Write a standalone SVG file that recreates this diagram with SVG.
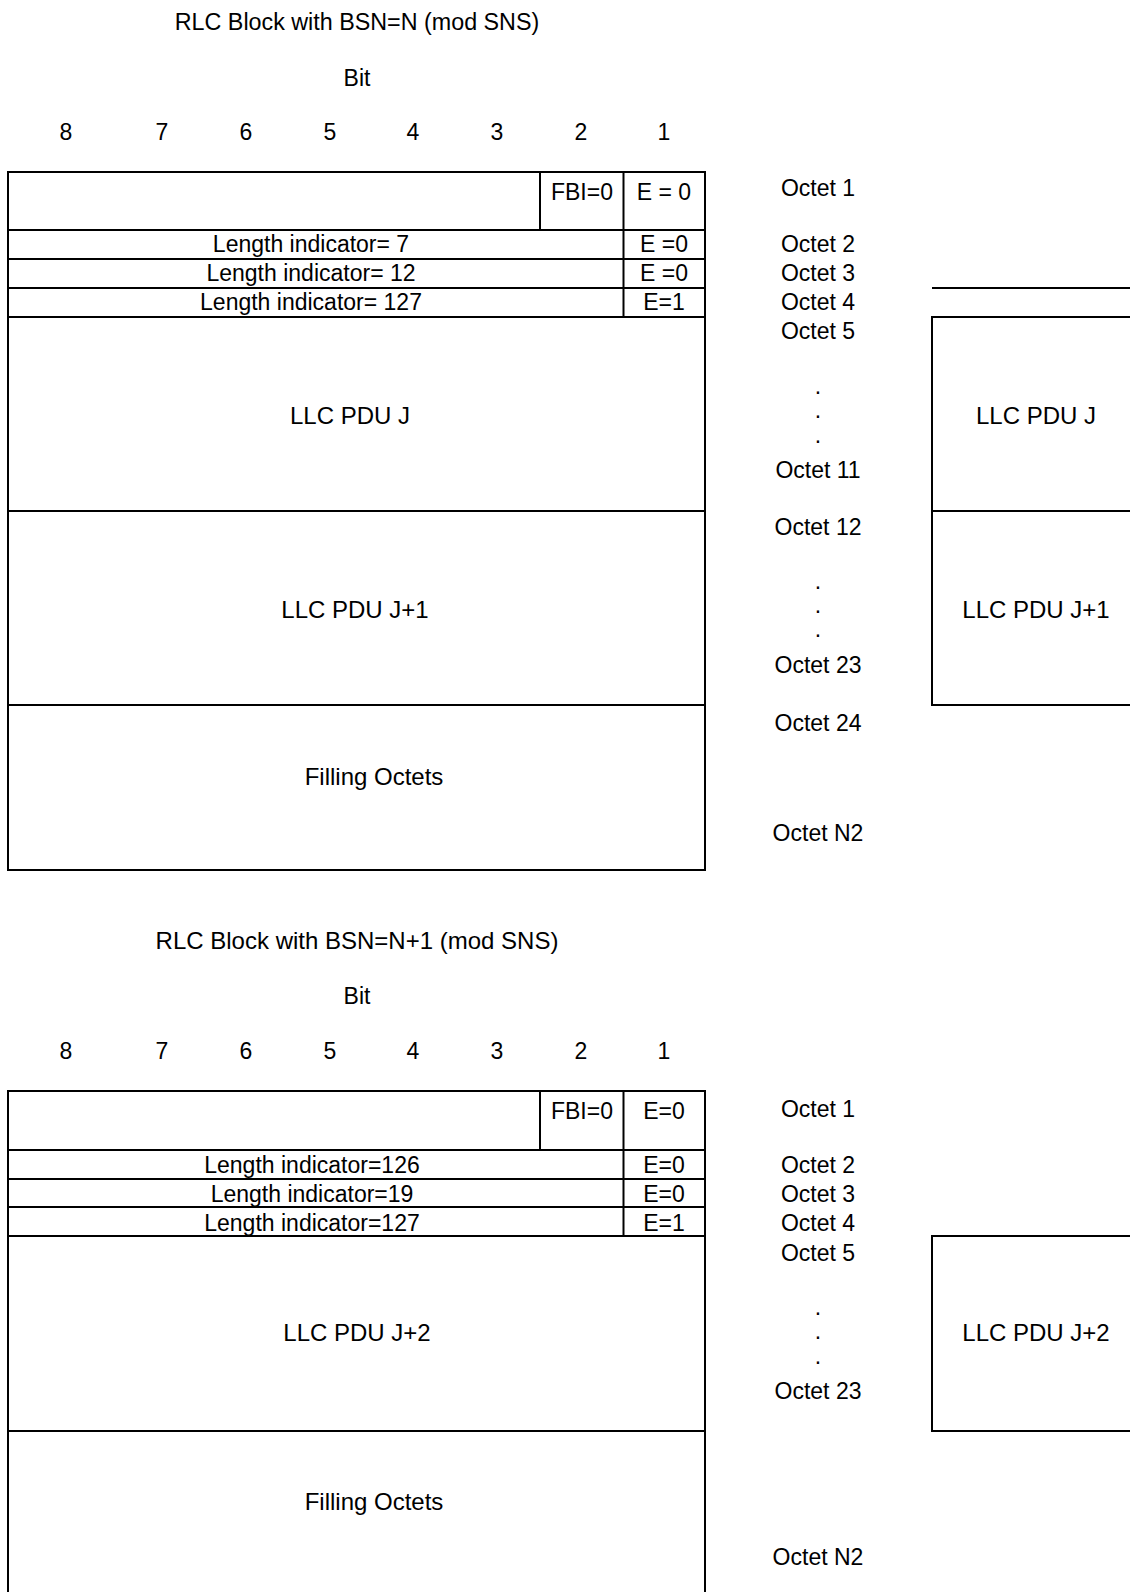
<svg xmlns="http://www.w3.org/2000/svg" width="1130" height="1592" viewBox="0 0 1130 1592">
<style>
text{font-family:"Liberation Sans",Arial,sans-serif;font-size:23px;fill:#000;text-anchor:middle}
text.big{font-size:24px}
line,rect.box{stroke:#000;stroke-width:2;fill:none}
</style>
<g id="block1">
<text x="357" y="30" style="font-size:23.3px">RLC Block with BSN=N (mod SNS)</text>
<text x="357" y="86">Bit</text>
<g id="bits1">
<text x="66" y="140">8</text><text x="162" y="140">7</text><text x="246" y="140">6</text><text x="330" y="140">5</text><text x="413" y="140">4</text><text x="497" y="140">3</text><text x="581" y="140">2</text><text x="664" y="140">1</text>
</g>
<g id="table1">
<line x1="8" y1="172" x2="8" y2="870"/>
<line x1="705" y1="172" x2="705" y2="870"/>
<line x1="7" y1="172" x2="706" y2="172"/>
<line x1="7" y1="230" x2="706" y2="230"/>
<line x1="7" y1="259" x2="706" y2="259"/>
<line x1="7" y1="288" x2="706" y2="288"/>
<line x1="7" y1="317" x2="706" y2="317"/>
<line x1="7" y1="511" x2="706" y2="511"/>
<line x1="7" y1="705" x2="706" y2="705"/>
<line x1="7" y1="870" x2="706" y2="870"/>
<line x1="540" y1="172" x2="540" y2="230"/>
<line x1="623.5" y1="172" x2="623.5" y2="317"/>
<text x="582" y="200">FBI=0</text><text x="664" y="200">E = 0</text>
<text x="311" y="252">Length indicator= 7</text><text x="664" y="252">E =0</text>
<text x="311" y="281">Length indicator= 12</text><text x="664" y="281">E =0</text>
<text x="311" y="310">Length indicator= 127</text><text x="664" y="310">E=1</text>
<text class="big" x="350" y="424">LLC PDU J</text>
<text class="big" x="355" y="618">LLC PDU J+1</text>
<text class="big" x="374" y="785">Filling Octets</text>
</g>
<g id="octets1">
<text x="818" y="196">Octet 1</text>
<text x="818" y="252">Octet 2</text>
<text x="818" y="281">Octet 3</text>
<text x="818" y="310">Octet 4</text>
<text x="818" y="339">Octet 5</text>
<text x="818" y="394">.</text><text x="818" y="418">.</text><text x="818" y="443">.</text>
<text x="818" y="478">Octet 11</text>
<text x="818" y="535">Octet 12</text>
<text x="818" y="589">.</text><text x="818" y="613">.</text><text x="818" y="637">.</text>
<text x="818" y="673">Octet 23</text>
<text x="818" y="731">Octet 24</text>
<text x="818" y="841">Octet N2</text>
</g>
<g id="llc1">
<line x1="932" y1="288" x2="1130" y2="288"/>
<line x1="932" y1="316" x2="932" y2="706"/>
<line x1="931" y1="317" x2="1130" y2="317"/>
<line x1="931" y1="511" x2="1130" y2="511"/>
<line x1="931" y1="705" x2="1130" y2="705"/>
<text class="big" x="1036" y="424">LLC PDU J</text>
<text class="big" x="1036" y="618">LLC PDU J+1</text>
</g>
</g>
<g id="block2">
<text class="big" x="357" y="949">RLC Block with BSN=N+1 (mod SNS)</text>
<text x="357" y="1004">Bit</text>
<g id="bits2">
<text x="66" y="1059">8</text><text x="162" y="1059">7</text><text x="246" y="1059">6</text><text x="330" y="1059">5</text><text x="413" y="1059">4</text><text x="497" y="1059">3</text><text x="581" y="1059">2</text><text x="664" y="1059">1</text>
</g>
<g id="table2">
<line x1="8" y1="1091" x2="8" y2="1592"/>
<line x1="705" y1="1091" x2="705" y2="1592"/>
<line x1="7" y1="1091" x2="706" y2="1091"/>
<line x1="7" y1="1150" x2="706" y2="1150"/>
<line x1="7" y1="1179" x2="706" y2="1179"/>
<line x1="7" y1="1207" x2="706" y2="1207"/>
<line x1="7" y1="1236" x2="706" y2="1236"/>
<line x1="7" y1="1431" x2="706" y2="1431"/>
<line x1="540" y1="1091" x2="540" y2="1150"/>
<line x1="623.5" y1="1091" x2="623.5" y2="1236"/>
<text x="582" y="1119">FBI=0</text><text x="664" y="1119">E=0</text>
<text x="312" y="1173">Length indicator=126</text><text x="664" y="1173">E=0</text>
<text x="312" y="1202">Length indicator=19</text><text x="664" y="1202">E=0</text>
<text x="312" y="1231">Length indicator=127</text><text x="664" y="1231">E=1</text>
<text class="big" x="357" y="1341">LLC PDU J+2</text>
<text class="big" x="374" y="1510">Filling Octets</text>
</g>
<g id="octets2">
<text x="818" y="1117">Octet 1</text>
<text x="818" y="1173">Octet 2</text>
<text x="818" y="1202">Octet 3</text>
<text x="818" y="1231">Octet 4</text>
<text x="818" y="1261">Octet 5</text>
<text x="818" y="1315">.</text><text x="818" y="1339">.</text><text x="818" y="1364">.</text>
<text x="818" y="1399">Octet 23</text>
<text x="818" y="1565">Octet N2</text>
</g>
<g id="llc2">
<rect class="box" x="932" y="1236" width="210" height="195"/>
<text class="big" x="1036" y="1341">LLC PDU J+2</text>
</g>
</g>
</svg>
